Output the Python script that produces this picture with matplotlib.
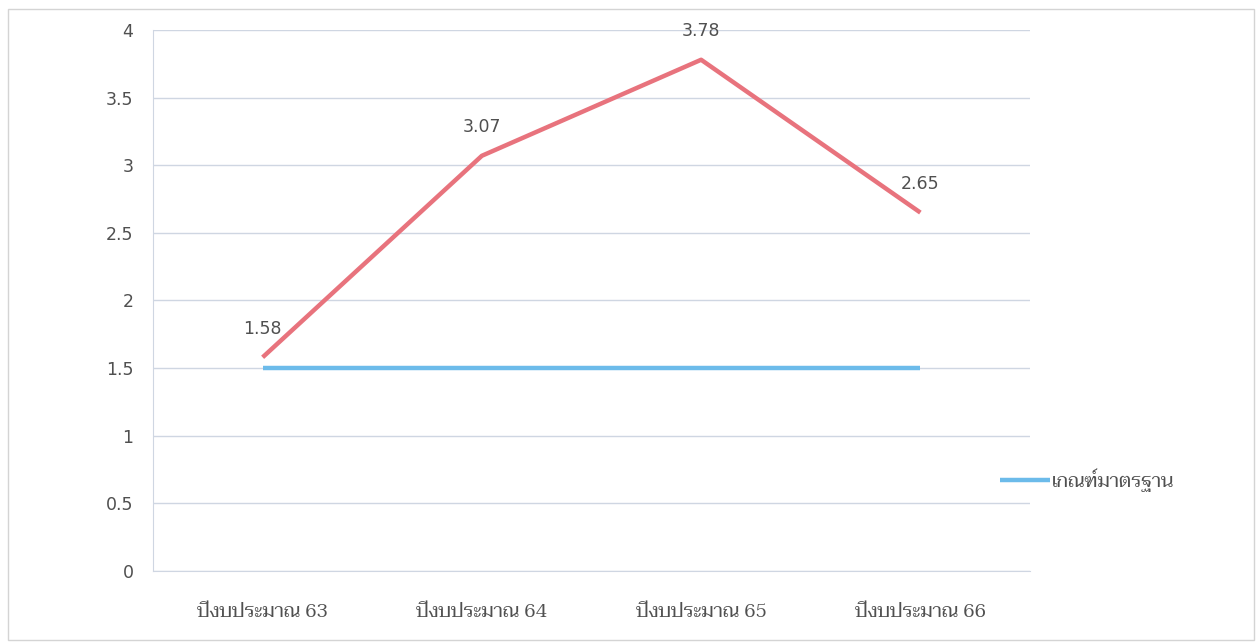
import matplotlib
matplotlib.use("Agg")
import matplotlib.pyplot as plt
from matplotlib import font_manager
from matplotlib.patches import Rectangle

categories = ["ปีงบประมาณ 63", "ปีงบประมาณ 64", "ปีงบประมาณ 65", "ปีงบประมาณ 66"]
scores = [1.58, 3.07, 3.78, 2.65]
standard = [1.5, 1.5, 1.5, 1.5]
standard_label = "เกณฑ์มาตรฐาน"
y_ticks = [0, 0.5, 1, 1.5, 2, 2.5, 3, 3.5, 4]


def first_font(names):
    for n in names:
        try:
            font_manager.findfont(font_manager.FontProperties(family=n),
                                  fallback_to_default=False)
            return n
        except Exception:
            pass
    return "DejaVu Sans"


thai_serif = first_font(["Taviraj", "Trirong", "Sarabun", "Pridi"])

fig = plt.figure(figsize=(12.59, 6.43), dpi=100)
fig.patches.append(Rectangle((8 / 1259, 3 / 643), 1246 / 1259, 631 / 643,
                             transform=fig.transFigure, fill=False,
                             edgecolor="#d4d4d4", linewidth=1.0))
ax = fig.add_axes([153 / 1259, 72 / 643, 877 / 1259, 541 / 643])

x = range(len(categories))
ax.plot(x, scores, color="#e8737d", linewidth=3.2, solid_capstyle="butt")
line_std, = ax.plot(x, standard, color="#6cbbea", linewidth=3.2,
                    solid_capstyle="butt")

for i, v in enumerate(scores):
    ax.annotate(f"{v:.2f}", (i, v), xytext=(0, 14), textcoords="offset points",
                ha="center", va="bottom", fontsize=12.5, color="#505050")

ax.set_xlim(-0.5, len(categories) - 0.5)
ax.set_ylim(0, 4)
ax.set_yticks(y_ticks)
ax.set_yticklabels([f"{t:g}" for t in y_ticks])
ax.set_xticks(list(x))
ax.set_xticklabels(categories, family=[thai_serif, "DejaVu Serif"],
                   fontsize=14, color="#505050")
ax.tick_params(axis="y", length=0, pad=14, labelsize=12.5, labelcolor="#505050")
ax.tick_params(axis="x", length=0, pad=24)
ax.grid(axis="y", color="#cfd6e2", linewidth=1.0)
ax.set_axisbelow(True)
for side in ["top", "right"]:
    ax.spines[side].set_visible(False)
ax.spines["left"].set_color("#cfd6e2")
ax.spines["bottom"].set_color("#cfd6e2")

leg = fig.legend([line_std], [standard_label], loc="center left",
                 bbox_to_anchor=(982 / 1259, 1 - 480 / 643), frameon=False,
                 handlelength=2.6, handletextpad=0.1,
                 prop={"family": [thai_serif, "DejaVu Sans"], "size": 14})
for t in leg.get_texts():
    t.set_color("#505050")

fig.savefig("out.png", dpi=100)
